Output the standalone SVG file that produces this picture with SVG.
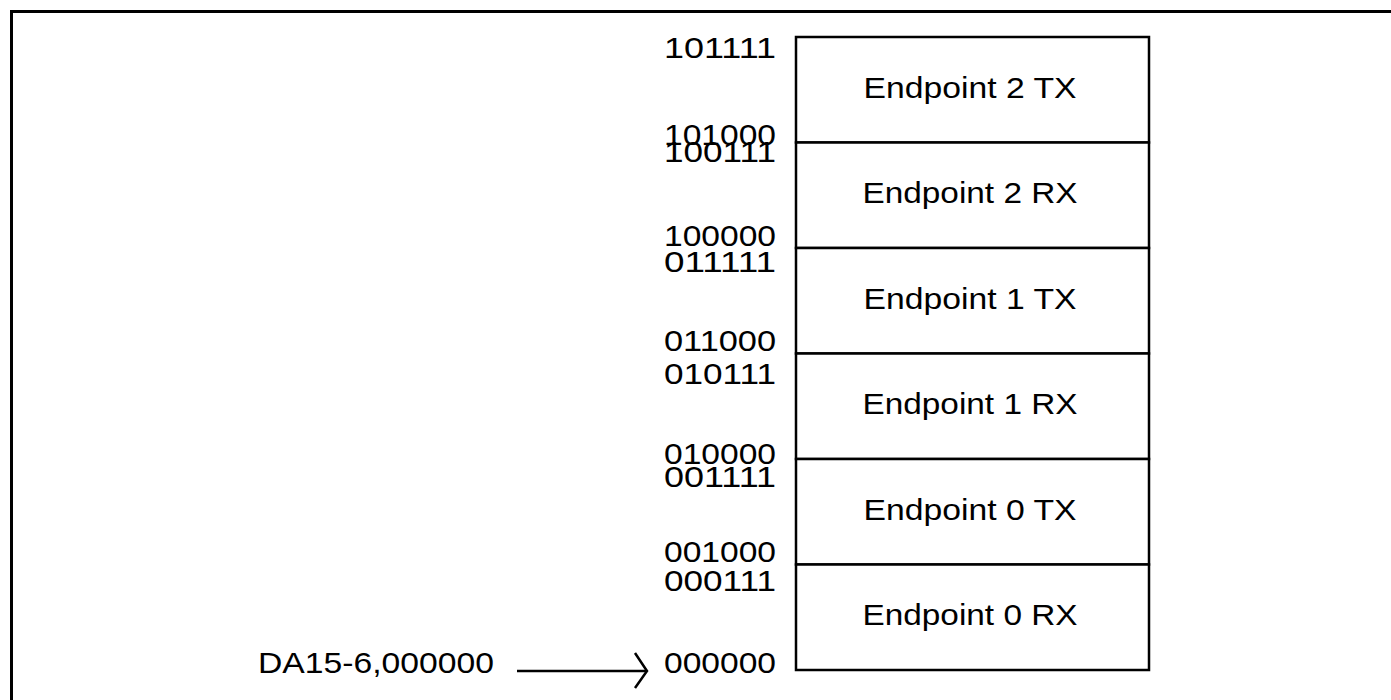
<svg xmlns="http://www.w3.org/2000/svg" width="1391" height="700" viewBox="0 0 1391 700">
<style>
text{font-family:"Liberation Sans",Arial,sans-serif;font-size:30px;fill:#000}
.addr{text-anchor:start}
.lbl{text-anchor:middle}
.cell{fill:#fff;stroke:#000;stroke-width:2.5}
.conn{fill:none;stroke:#000;stroke-width:2.5}
</style>
<rect width="1391" height="700" fill="#fff"/>
<rect id="frame" x="11.5" y="11.5" width="1400" height="720" fill="none" stroke="#000" stroke-width="3"/>
<g id="ep2tx"><rect class="cell" x="796" y="37" width="353" height="105.5"/><text class="lbl" x="970" y="98" textLength="213" lengthAdjust="spacingAndGlyphs">Endpoint 2 TX</text></g>
<g id="ep2rx"><rect class="cell" x="796" y="142.5" width="353" height="105.5"/><text class="lbl" x="970" y="203" textLength="215" lengthAdjust="spacingAndGlyphs">Endpoint 2 RX</text></g>
<g id="ep1tx"><rect class="cell" x="796" y="248" width="353" height="105.5"/><text class="lbl" x="970" y="309" textLength="213" lengthAdjust="spacingAndGlyphs">Endpoint 1 TX</text></g>
<g id="ep1rx"><rect class="cell" x="796" y="353.5" width="353" height="105.5"/><text class="lbl" x="970" y="414" textLength="215" lengthAdjust="spacingAndGlyphs">Endpoint 1 RX</text></g>
<g id="ep0tx"><rect class="cell" x="796" y="459" width="353" height="105.5"/><text class="lbl" x="970" y="520" textLength="213" lengthAdjust="spacingAndGlyphs">Endpoint 0 TX</text></g>
<g id="ep0rx"><rect class="cell" x="796" y="564.5" width="353" height="105.5"/><text class="lbl" x="970" y="625" textLength="215" lengthAdjust="spacingAndGlyphs">Endpoint 0 RX</text></g>
<g id="addresses">
<text class="addr" x="664" y="58" textLength="112" lengthAdjust="spacingAndGlyphs">101111</text>
<text class="addr" x="664" y="145" textLength="112" lengthAdjust="spacingAndGlyphs">101000</text>
<text class="addr" x="664" y="162" textLength="112" lengthAdjust="spacingAndGlyphs">100111</text>
<text class="addr" x="664" y="246" textLength="112" lengthAdjust="spacingAndGlyphs">100000</text>
<text class="addr" x="664" y="272" textLength="112" lengthAdjust="spacingAndGlyphs">011111</text>
<text class="addr" x="664" y="351" textLength="112" lengthAdjust="spacingAndGlyphs">011000</text>
<text class="addr" x="664" y="384" textLength="112" lengthAdjust="spacingAndGlyphs">010111</text>
<text class="addr" x="664" y="464" textLength="112" lengthAdjust="spacingAndGlyphs">010000</text>
<text class="addr" x="664" y="487" textLength="112" lengthAdjust="spacingAndGlyphs">001111</text>
<text class="addr" x="664" y="562" textLength="112" lengthAdjust="spacingAndGlyphs">001000</text>
<text class="addr" x="664" y="591" textLength="112" lengthAdjust="spacingAndGlyphs">000111</text>
<text class="addr" x="664" y="673" textLength="112" lengthAdjust="spacingAndGlyphs">000000</text>
</g>
<g id="da-label"><text x="258" y="673" textLength="236" lengthAdjust="spacingAndGlyphs">DA15-6,000000</text></g>
<g id="connectors">
<line class="conn" x1="517" y1="671" x2="647" y2="671"/>
<polyline class="conn" points="635,653 647,671 635,688"/>
</g>
</svg>
